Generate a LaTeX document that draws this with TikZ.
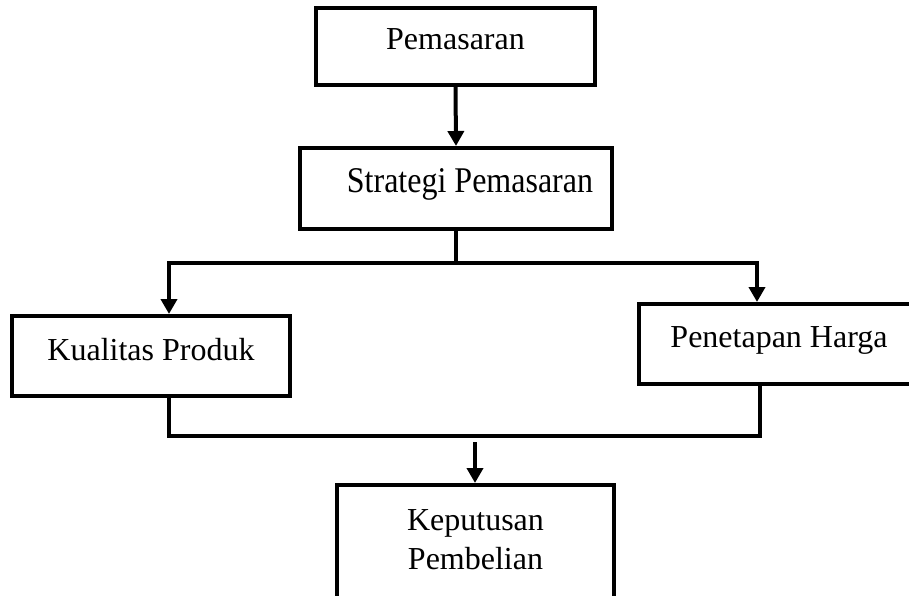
\documentclass[tikz,border=0pt]{standalone}
\usepackage{fontspec}
\usepackage{graphicx}
\setmainfont{Liberation Serif}
\usetikzlibrary{arrows.meta}
\begin{document}
\begin{tikzpicture}[x=1pt,y=-1pt,
  box/.style={draw=black, line width=4pt, fill=white, inner sep=0pt,
    font=\fontsize{32}{39}\selectfont},
  conn/.style={line width=4pt, line cap=rect},
  arr/.style={line width=4pt, -{Triangle[width=16pt,length=15pt]}}]
\useasboundingbox (0,0) rectangle (909,596);
\node[box, minimum width=279pt, minimum height=77pt, text height=22pt, text depth=15pt] (P) at (455.5,46.5) {Pemasaran};
\node[box, minimum width=312pt, minimum height=81pt, text height=24pt, text depth=15pt] (S) at (456,188.5) {\hspace*{28pt}\scalebox{1}[1.13]{Strategi Pemasaran}};
\node[box, minimum width=278pt, minimum height=80pt, text height=22pt, text depth=14pt] (K) at (151,356) {Kualitas Produk};
\node[box, minimum width=273pt, minimum height=80pt, text height=22pt, text depth=16pt] (H) at (775.5,344) {\hspace*{7pt}Penetapan Harga};
\node[box, anchor=north, minimum width=277pt, text height=45pt, text depth=112pt] (B) at (475.5,483)
  {\begin{tabular}[t]{@{}c@{}}Keputusan\\Pembelian\end{tabular}};
\coordinate (js) at (456,263);
\coordinate (jl) at (169,263);
\coordinate (jr) at (757,263);
\coordinate (bl) at (169,436);
\coordinate (br) at (760,436);
\coordinate (ba) at (475,442);
\draw[arr] (P.south) -- (S.north);
\draw[conn] (S.south) -- (js);
\draw[conn] (jl) -- (jr);
\draw[arr] (jl) -- (jl |- K.north);
\draw[arr] (jr) -- (jr |- H.north);
\draw[conn] (K.south -| bl) -- (bl) -- (br) -- (H.south -| br);
\draw[arr] (ba) -- (ba |- B.north);
\end{tikzpicture}
\end{document}
